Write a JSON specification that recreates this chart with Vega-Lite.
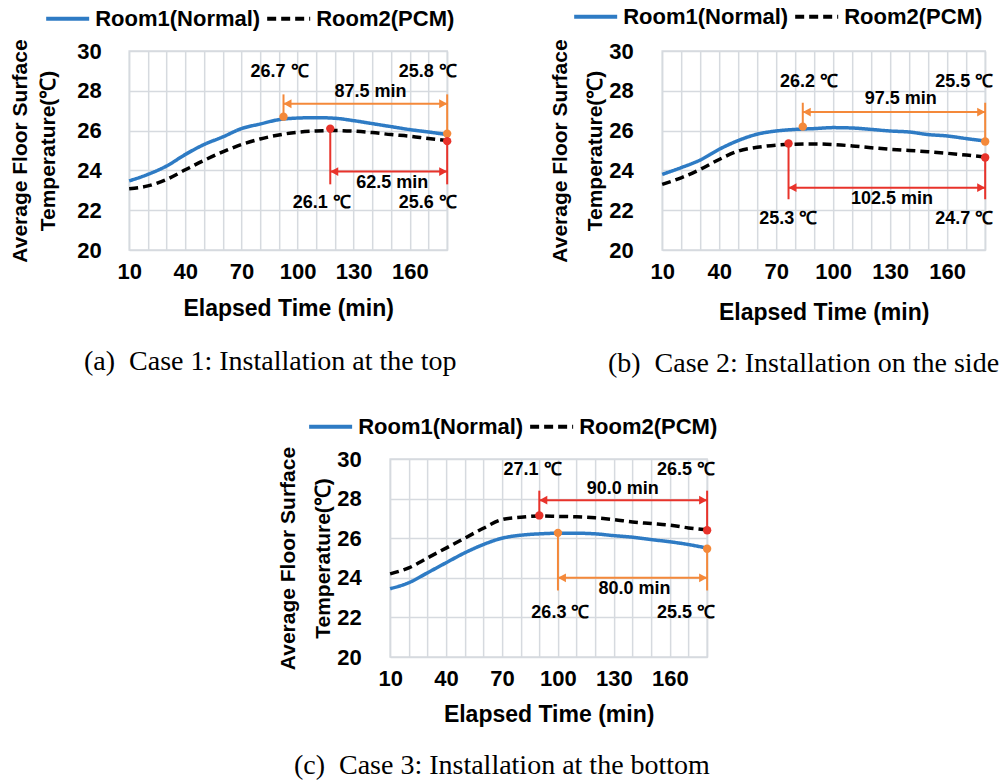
{
  "$schema": "https://vega.github.io/schema/vega-lite/v6.json",
  "background": "white",
  "padding": {"left": 8, "top": -8, "right": 5, "bottom": 5},
  "config": {
    "font": "Liberation Sans",
    "view": {"stroke": "#d6dadf", "strokeWidth": 1.5},
    "axis": {
      "labelFont": "Liberation Sans", "labelFontWeight": "bold", "labelFontSize": 22, "labelColor": "#000000",
      "titleFont": "Liberation Sans", "titleFontWeight": "bold", "titleColor": "#000000",
      "gridColor": "#d6dadf", "gridWidth": 1.5, "domain": false, "ticks": false
    },
    "legend": {
      "orient": "none", "direction": "horizontal", "title": null,
      "symbolType": "stroke", "symbolSize": 1849, "symbolStrokeWidth": 4,
      "labelFont": "Liberation Sans", "labelFontWeight": "bold", "labelFontSize": 22, "labelColor": "#000000", "labelLimit": 400,
      "labelOffset": 4, "columnPadding": -2, "padding": 0
    },
    "title": {"font": "Liberation Serif", "fontSize": 28, "fontWeight": "normal", "color": "#000000", "orient": "bottom", "anchor": "middle", "frame": "bounds", "offset": 12}
  },
  "datasets": {
    "curves": [
      {"p": "a", "room": "Room1(Normal)", "t": 10, "T": 23.47},
      {"p": "a", "room": "Room1(Normal)", "t": 20, "T": 23.8},
      {"p": "a", "room": "Room1(Normal)", "t": 30, "T": 24.22},
      {"p": "a", "room": "Room1(Normal)", "t": 40, "T": 24.8},
      {"p": "a", "room": "Room1(Normal)", "t": 50, "T": 25.3},
      {"p": "a", "room": "Room1(Normal)", "t": 60, "T": 25.68},
      {"p": "a", "room": "Room1(Normal)", "t": 70, "T": 26.1},
      {"p": "a", "room": "Room1(Normal)", "t": 80, "T": 26.33},
      {"p": "a", "room": "Room1(Normal)", "t": 90, "T": 26.55},
      {"p": "a", "room": "Room1(Normal)", "t": 100, "T": 26.63},
      {"p": "a", "room": "Room1(Normal)", "t": 110, "T": 26.65},
      {"p": "a", "room": "Room1(Normal)", "t": 120, "T": 26.62},
      {"p": "a", "room": "Room1(Normal)", "t": 130, "T": 26.5},
      {"p": "a", "room": "Room1(Normal)", "t": 140, "T": 26.35},
      {"p": "a", "room": "Room1(Normal)", "t": 150, "T": 26.2},
      {"p": "a", "room": "Room1(Normal)", "t": 160, "T": 26.05},
      {"p": "a", "room": "Room1(Normal)", "t": 170, "T": 25.93},
      {"p": "a", "room": "Room1(Normal)", "t": 180, "T": 25.8},
      {"p": "a", "room": "Room2(PCM)", "t": 10, "T": 23.08},
      {"p": "a", "room": "Room2(PCM)", "t": 20, "T": 23.22},
      {"p": "a", "room": "Room2(PCM)", "t": 30, "T": 23.55},
      {"p": "a", "room": "Room2(PCM)", "t": 40, "T": 24.03},
      {"p": "a", "room": "Room2(PCM)", "t": 50, "T": 24.5},
      {"p": "a", "room": "Room2(PCM)", "t": 60, "T": 24.93},
      {"p": "a", "room": "Room2(PCM)", "t": 70, "T": 25.3},
      {"p": "a", "room": "Room2(PCM)", "t": 80, "T": 25.58},
      {"p": "a", "room": "Room2(PCM)", "t": 90, "T": 25.78},
      {"p": "a", "room": "Room2(PCM)", "t": 100, "T": 25.92},
      {"p": "a", "room": "Room2(PCM)", "t": 110, "T": 25.98},
      {"p": "a", "room": "Room2(PCM)", "t": 120, "T": 26.0},
      {"p": "a", "room": "Room2(PCM)", "t": 130, "T": 25.97},
      {"p": "a", "room": "Room2(PCM)", "t": 140, "T": 25.9},
      {"p": "a", "room": "Room2(PCM)", "t": 150, "T": 25.8},
      {"p": "a", "room": "Room2(PCM)", "t": 160, "T": 25.72},
      {"p": "a", "room": "Room2(PCM)", "t": 170, "T": 25.6},
      {"p": "a", "room": "Room2(PCM)", "t": 180, "T": 25.5},
      {"p": "b", "room": "Room1(Normal)", "t": 10, "T": 23.8},
      {"p": "b", "room": "Room1(Normal)", "t": 20, "T": 24.14},
      {"p": "b", "room": "Room1(Normal)", "t": 30, "T": 24.52},
      {"p": "b", "room": "Room1(Normal)", "t": 40, "T": 25.06},
      {"p": "b", "room": "Room1(Normal)", "t": 50, "T": 25.5},
      {"p": "b", "room": "Room1(Normal)", "t": 60, "T": 25.82},
      {"p": "b", "room": "Room1(Normal)", "t": 70, "T": 25.98},
      {"p": "b", "room": "Room1(Normal)", "t": 80, "T": 26.06},
      {"p": "b", "room": "Room1(Normal)", "t": 90, "T": 26.1},
      {"p": "b", "room": "Room1(Normal)", "t": 100, "T": 26.15},
      {"p": "b", "room": "Room1(Normal)", "t": 110, "T": 26.13},
      {"p": "b", "room": "Room1(Normal)", "t": 120, "T": 26.06},
      {"p": "b", "room": "Room1(Normal)", "t": 130, "T": 25.98},
      {"p": "b", "room": "Room1(Normal)", "t": 140, "T": 25.93},
      {"p": "b", "room": "Room1(Normal)", "t": 150, "T": 25.8},
      {"p": "b", "room": "Room1(Normal)", "t": 160, "T": 25.73},
      {"p": "b", "room": "Room1(Normal)", "t": 170, "T": 25.6},
      {"p": "b", "room": "Room1(Normal)", "t": 180, "T": 25.48},
      {"p": "b", "room": "Room2(PCM)", "t": 10, "T": 23.3},
      {"p": "b", "room": "Room2(PCM)", "t": 20, "T": 23.63},
      {"p": "b", "room": "Room2(PCM)", "t": 30, "T": 24.05},
      {"p": "b", "room": "Room2(PCM)", "t": 40, "T": 24.55},
      {"p": "b", "room": "Room2(PCM)", "t": 50, "T": 24.97},
      {"p": "b", "room": "Room2(PCM)", "t": 60, "T": 25.16},
      {"p": "b", "room": "Room2(PCM)", "t": 70, "T": 25.27},
      {"p": "b", "room": "Room2(PCM)", "t": 80, "T": 25.32},
      {"p": "b", "room": "Room2(PCM)", "t": 90, "T": 25.33},
      {"p": "b", "room": "Room2(PCM)", "t": 100, "T": 25.3},
      {"p": "b", "room": "Room2(PCM)", "t": 110, "T": 25.23},
      {"p": "b", "room": "Room2(PCM)", "t": 120, "T": 25.14},
      {"p": "b", "room": "Room2(PCM)", "t": 130, "T": 25.06},
      {"p": "b", "room": "Room2(PCM)", "t": 140, "T": 25.0},
      {"p": "b", "room": "Room2(PCM)", "t": 150, "T": 24.94},
      {"p": "b", "room": "Room2(PCM)", "t": 160, "T": 24.86},
      {"p": "b", "room": "Room2(PCM)", "t": 170, "T": 24.77},
      {"p": "b", "room": "Room2(PCM)", "t": 180, "T": 24.67},
      {"p": "c", "room": "Room1(Normal)", "t": 10, "T": 23.45},
      {"p": "c", "room": "Room1(Normal)", "t": 20, "T": 23.75},
      {"p": "c", "room": "Room1(Normal)", "t": 30, "T": 24.25},
      {"p": "c", "room": "Room1(Normal)", "t": 40, "T": 24.76},
      {"p": "c", "room": "Room1(Normal)", "t": 50, "T": 25.26},
      {"p": "c", "room": "Room1(Normal)", "t": 60, "T": 25.68},
      {"p": "c", "room": "Room1(Normal)", "t": 70, "T": 26.0},
      {"p": "c", "room": "Room1(Normal)", "t": 80, "T": 26.15},
      {"p": "c", "room": "Room1(Normal)", "t": 90, "T": 26.22},
      {"p": "c", "room": "Room1(Normal)", "t": 100, "T": 26.25},
      {"p": "c", "room": "Room1(Normal)", "t": 110, "T": 26.25},
      {"p": "c", "room": "Room1(Normal)", "t": 120, "T": 26.22},
      {"p": "c", "room": "Room1(Normal)", "t": 130, "T": 26.13},
      {"p": "c", "room": "Room1(Normal)", "t": 140, "T": 26.05},
      {"p": "c", "room": "Room1(Normal)", "t": 150, "T": 25.93},
      {"p": "c", "room": "Room1(Normal)", "t": 160, "T": 25.82},
      {"p": "c", "room": "Room1(Normal)", "t": 170, "T": 25.68},
      {"p": "c", "room": "Room1(Normal)", "t": 180, "T": 25.5},
      {"p": "c", "room": "Room2(PCM)", "t": 10, "T": 24.2},
      {"p": "c", "room": "Room2(PCM)", "t": 20, "T": 24.5},
      {"p": "c", "room": "Room2(PCM)", "t": 30, "T": 25.0},
      {"p": "c", "room": "Room2(PCM)", "t": 40, "T": 25.5},
      {"p": "c", "room": "Room2(PCM)", "t": 50, "T": 26.0},
      {"p": "c", "room": "Room2(PCM)", "t": 60, "T": 26.5},
      {"p": "c", "room": "Room2(PCM)", "t": 70, "T": 26.94},
      {"p": "c", "room": "Room2(PCM)", "t": 80, "T": 27.06},
      {"p": "c", "room": "Room2(PCM)", "t": 90, "T": 27.12},
      {"p": "c", "room": "Room2(PCM)", "t": 100, "T": 27.1},
      {"p": "c", "room": "Room2(PCM)", "t": 110, "T": 27.08},
      {"p": "c", "room": "Room2(PCM)", "t": 120, "T": 27.03},
      {"p": "c", "room": "Room2(PCM)", "t": 130, "T": 26.94},
      {"p": "c", "room": "Room2(PCM)", "t": 140, "T": 26.82},
      {"p": "c", "room": "Room2(PCM)", "t": 150, "T": 26.74},
      {"p": "c", "room": "Room2(PCM)", "t": 160, "T": 26.66},
      {"p": "c", "room": "Room2(PCM)", "t": 170, "T": 26.52},
      {"p": "c", "room": "Room2(PCM)", "t": 180, "T": 26.42}
    ],
    "ann": [
      {"p": "a", "grp": "R1", "kind": "seg", "t": 92.5, "t2": 92.5, "T": 26.7, "T2": 27.82},
      {"p": "a", "grp": "R1", "kind": "seg", "t": 180, "t2": 180, "T": 25.8, "T2": 27.82},
      {"p": "a", "grp": "R1", "kind": "seg", "t": 92.5, "t2": 180, "T": 27.35, "T2": 27.35},
      {"p": "a", "grp": "R1", "kind": "head", "dir": "left", "t": 92.5, "T": 27.35},
      {"p": "a", "grp": "R1", "kind": "head", "dir": "right", "t": 180, "T": 27.35},
      {"p": "a", "grp": "R1", "kind": "dot", "t": 92.5, "T": 26.7},
      {"p": "a", "grp": "R1", "kind": "dot", "t": 180, "T": 25.85},
      {"p": "a", "grp": "R1", "kind": "label", "t": 139, "T": 27.94, "text": "87.5 min"},
      {"p": "a", "grp": "R1", "kind": "label", "t": 90.4, "T": 28.95, "text": "26.7 ℃"},
      {"p": "a", "grp": "R1", "kind": "label", "t": 169.6, "T": 28.95, "text": "25.8 ℃"},
      {"p": "a", "grp": "R2", "kind": "seg", "t": 117.5, "t2": 117.5, "T": 26.1, "T2": 23.3},
      {"p": "a", "grp": "R2", "kind": "seg", "t": 180, "t2": 180, "T": 25.5, "T2": 23.3},
      {"p": "a", "grp": "R2", "kind": "seg", "t": 117.5, "t2": 180, "T": 23.94, "T2": 23.94},
      {"p": "a", "grp": "R2", "kind": "head", "dir": "left", "t": 117.5, "T": 23.94},
      {"p": "a", "grp": "R2", "kind": "head", "dir": "right", "t": 180, "T": 23.94},
      {"p": "a", "grp": "R2", "kind": "dot", "t": 117.5, "T": 26.1},
      {"p": "a", "grp": "R2", "kind": "dot", "t": 180, "T": 25.47},
      {"p": "a", "grp": "R2", "kind": "label", "t": 150.6, "T": 23.38, "text": "62.5 min"},
      {"p": "a", "grp": "R2", "kind": "label", "t": 113, "T": 22.35, "text": "26.1 ℃"},
      {"p": "a", "grp": "R2", "kind": "label", "t": 169.6, "T": 22.35, "text": "25.6 ℃"},
      {"p": "b", "grp": "R1", "kind": "seg", "t": 84, "t2": 84, "T": 26.2, "T2": 27.4},
      {"p": "b", "grp": "R1", "kind": "seg", "t": 180, "t2": 180, "T": 25.5, "T2": 27.4},
      {"p": "b", "grp": "R1", "kind": "seg", "t": 84, "t2": 180, "T": 26.93, "T2": 26.93},
      {"p": "b", "grp": "R1", "kind": "head", "dir": "left", "t": 84, "T": 26.93},
      {"p": "b", "grp": "R1", "kind": "head", "dir": "right", "t": 180, "T": 26.93},
      {"p": "b", "grp": "R1", "kind": "dot", "t": 84, "T": 26.2},
      {"p": "b", "grp": "R1", "kind": "dot", "t": 180, "T": 25.45},
      {"p": "b", "grp": "R1", "kind": "label", "t": 135.6, "T": 27.57, "text": "97.5 min"},
      {"p": "b", "grp": "R1", "kind": "label", "t": 87.3, "T": 28.45, "text": "26.2 ℃"},
      {"p": "b", "grp": "R1", "kind": "label", "t": 169, "T": 28.45, "text": "25.5 ℃"},
      {"p": "b", "grp": "R2", "kind": "seg", "t": 76.5, "t2": 76.5, "T": 25.35, "T2": 22.55},
      {"p": "b", "grp": "R2", "kind": "seg", "t": 180, "t2": 180, "T": 24.7, "T2": 22.55},
      {"p": "b", "grp": "R2", "kind": "seg", "t": 76.5, "t2": 180, "T": 23.13, "T2": 23.13},
      {"p": "b", "grp": "R2", "kind": "head", "dir": "left", "t": 76.5, "T": 23.13},
      {"p": "b", "grp": "R2", "kind": "head", "dir": "right", "t": 180, "T": 23.13},
      {"p": "b", "grp": "R2", "kind": "dot", "t": 76.5, "T": 25.35},
      {"p": "b", "grp": "R2", "kind": "dot", "t": 180, "T": 24.65},
      {"p": "b", "grp": "R2", "kind": "label", "t": 131, "T": 22.58, "text": "102.5 min"},
      {"p": "b", "grp": "R2", "kind": "label", "t": 76.4, "T": 21.54, "text": "25.3 ℃"},
      {"p": "b", "grp": "R2", "kind": "label", "t": 169, "T": 21.54, "text": "24.7 ℃"},
      {"p": "c", "grp": "R2", "kind": "seg", "t": 90, "t2": 90, "T": 27.15, "T2": 28.4},
      {"p": "c", "grp": "R2", "kind": "seg", "t": 180, "t2": 180, "T": 26.4, "T2": 28.4},
      {"p": "c", "grp": "R2", "kind": "seg", "t": 90, "t2": 180, "T": 27.92, "T2": 27.92},
      {"p": "c", "grp": "R2", "kind": "head", "dir": "left", "t": 90, "T": 27.92},
      {"p": "c", "grp": "R2", "kind": "head", "dir": "right", "t": 180, "T": 27.92},
      {"p": "c", "grp": "R2", "kind": "dot", "t": 90, "T": 27.15},
      {"p": "c", "grp": "R2", "kind": "dot", "t": 180, "T": 26.4},
      {"p": "c", "grp": "R2", "kind": "label", "t": 134.7, "T": 28.5, "text": "90.0 min"},
      {"p": "c", "grp": "R2", "kind": "label", "t": 86.4, "T": 29.46, "text": "27.1 ℃"},
      {"p": "c", "grp": "R2", "kind": "label", "t": 168.7, "T": 29.46, "text": "26.5 ℃"},
      {"p": "c", "grp": "R1", "kind": "seg", "t": 100, "t2": 100, "T": 26.27, "T2": 23.36},
      {"p": "c", "grp": "R1", "kind": "seg", "t": 180, "t2": 180, "T": 25.5, "T2": 23.36},
      {"p": "c", "grp": "R1", "kind": "seg", "t": 100, "t2": 180, "T": 24.0, "T2": 24.0},
      {"p": "c", "grp": "R1", "kind": "head", "dir": "left", "t": 100, "T": 24.0},
      {"p": "c", "grp": "R1", "kind": "head", "dir": "right", "t": 180, "T": 24.0},
      {"p": "c", "grp": "R1", "kind": "dot", "t": 100, "T": 26.27},
      {"p": "c", "grp": "R1", "kind": "dot", "t": 180, "T": 25.47},
      {"p": "c", "grp": "R1", "kind": "label", "t": 141, "T": 23.41, "text": "80.0 min"},
      {"p": "c", "grp": "R1", "kind": "label", "t": 101.3, "T": 22.24, "text": "26.3 ℃"},
      {"p": "c", "grp": "R1", "kind": "label", "t": 168.7, "T": 22.24, "text": "25.5 ℃"}
    ]
  },
  "vconcat": [
    {
      "hconcat": [
        {
          "width": 318, "height": 199,
          "title": {"text": "(a)\u00a0 Case 1: Installation at the top", "offset": 28, "dx": 37},
          "encoding": {
            "x": {"field": "t", "type": "quantitative", "scale": {"domain": [10, 180], "nice": false, "zero": false},
                  "axis": {"values": [10, 20, 30, 40, 50, 60, 70, 80, 90, 100, 110, 120, 130, 140, 150, 160, 170, 180], "labelExpr": "datum.value % 30 == 10 ? datum.label : ''", "labelFlush": false, "labelPadding": 11, "title": "Elapsed Time (min)", "titleFontSize": 23, "titlePadding": 15}},
            "y": {"field": "T", "type": "quantitative", "scale": {"domain": [20, 30], "nice": false, "zero": false},
                  "axis": {"values": [20, 22, 24, 26, 28, 30], "labelPadding": 28, "title": ["Average Floor Surface", "Temperature(℃)"], "titleFontSize": 21, "titleLineHeight": 28, "titlePadding": 18}}
          },
          "layer": [
            {"data": {"name": "curves"}, "transform": [{"filter": "datum.p == 'a'"}],
             "mark": {"type": "line", "interpolate": "monotone", "strokeWidth": 3.5},
             "encoding": {
               "color": {"field": "room", "type": "nominal", "scale": {"domain": ["Room1(Normal)", "Room2(PCM)"], "range": ["#2e7bc4", "#000000"]}, "legend": {"legendX": -85, "legendY": -56}},
               "strokeDash": {"field": "room", "type": "nominal", "scale": {"domain": ["Room1(Normal)", "Room2(PCM)"], "range": [[1, 0], [9, 5]]}, "legend": {"legendX": -85, "legendY": -56}}
             }},
            {"data": {"name": "ann"}, "transform": [{"filter": "datum.p == 'a' && datum.kind == 'seg'"}],
             "mark": {"type": "rule", "strokeWidth": 2},
             "encoding": {"x2": {"field": "t2"}, "y2": {"field": "T2"},
               "stroke": {"field": "grp", "type": "nominal", "scale": {"domain": ["R1", "R2"], "range": ["#f4893a", "#e8332b"]}, "legend": null}}},
            {"data": {"name": "ann"}, "transform": [{"filter": "datum.p == 'a' && datum.kind == 'head'"}],
             "mark": {"type": "point", "filled": true, "size": 256, "opacity": 1, "strokeWidth": 0},
             "encoding": {
               "shape": {"field": "dir", "type": "nominal", "scale": {"domain": ["left", "right"], "range": ["M0,0L1,-0.55L1,0.55Z", "M0,0L-1,-0.55L-1,0.55Z"]}, "legend": null},
               "fill": {"field": "grp", "type": "nominal", "scale": {"domain": ["R1", "R2"], "range": ["#f4893a", "#e8332b"]}, "legend": null}}},
            {"data": {"name": "ann"}, "transform": [{"filter": "datum.p == 'a' && datum.kind == 'dot'"}],
             "mark": {"type": "circle", "size": 70, "opacity": 1},
             "encoding": {"fill": {"field": "grp", "type": "nominal", "scale": {"domain": ["R1", "R2"], "range": ["#f4893a", "#e8332b"]}, "legend": null}}},
            {"data": {"name": "ann"}, "transform": [{"filter": "datum.p == 'a' && datum.kind == 'label'"}],
             "mark": {"type": "text", "font": "Liberation Sans", "fontWeight": "bold", "fontSize": 18, "align": "center", "baseline": "middle", "color": "#000000"},
             "encoding": {"text": {"field": "text", "type": "nominal"}}}
          ]
        },
        {
          "width": 323, "height": 199,
          "title": {"text": "(b)\u00a0 Case 2: Installation on the side", "dx": 32, "offset": 26},
          "encoding": {
            "x": {"field": "t", "type": "quantitative", "scale": {"domain": [10, 180], "nice": false, "zero": false},
                  "axis": {"values": [10, 20, 30, 40, 50, 60, 70, 80, 90, 100, 110, 120, 130, 140, 150, 160, 170, 180], "labelExpr": "datum.value % 30 == 10 ? datum.label : ''", "labelFlush": false, "labelPadding": 11, "title": "Elapsed Time (min)", "titleFontSize": 23, "titlePadding": 19}},
            "y": {"field": "T", "type": "quantitative", "scale": {"domain": [20, 30], "nice": false, "zero": false},
                  "axis": {"values": [20, 22, 24, 26, 28, 30], "labelPadding": 29, "title": ["Average Floor Surface", "Temperature(℃)"], "titleFontSize": 21, "titleLineHeight": 35, "titlePadding": 3}}
          },
          "layer": [
            {"data": {"name": "curves"}, "transform": [{"filter": "datum.p == 'b'"}],
             "mark": {"type": "line", "interpolate": "monotone", "strokeWidth": 3.5},
             "encoding": {
               "color": {"field": "room", "type": "nominal", "scale": {"domain": ["Room1(Normal)", "Room2(PCM)"], "range": ["#2e7bc4", "#000000"]}, "legend": {"legendX": -90, "legendY": -58}},
               "strokeDash": {"field": "room", "type": "nominal", "scale": {"domain": ["Room1(Normal)", "Room2(PCM)"], "range": [[1, 0], [9, 5]]}, "legend": {"legendX": -90, "legendY": -58}}
             }},
            {"data": {"name": "ann"}, "transform": [{"filter": "datum.p == 'b' && datum.kind == 'seg'"}],
             "mark": {"type": "rule", "strokeWidth": 2},
             "encoding": {"x2": {"field": "t2"}, "y2": {"field": "T2"},
               "stroke": {"field": "grp", "type": "nominal", "scale": {"domain": ["R1", "R2"], "range": ["#f4893a", "#e8332b"]}, "legend": null}}},
            {"data": {"name": "ann"}, "transform": [{"filter": "datum.p == 'b' && datum.kind == 'head'"}],
             "mark": {"type": "point", "filled": true, "size": 256, "opacity": 1, "strokeWidth": 0},
             "encoding": {
               "shape": {"field": "dir", "type": "nominal", "scale": {"domain": ["left", "right"], "range": ["M0,0L1,-0.55L1,0.55Z", "M0,0L-1,-0.55L-1,0.55Z"]}, "legend": null},
               "fill": {"field": "grp", "type": "nominal", "scale": {"domain": ["R1", "R2"], "range": ["#f4893a", "#e8332b"]}, "legend": null}}},
            {"data": {"name": "ann"}, "transform": [{"filter": "datum.p == 'b' && datum.kind == 'dot'"}],
             "mark": {"type": "circle", "size": 70, "opacity": 1},
             "encoding": {"fill": {"field": "grp", "type": "nominal", "scale": {"domain": ["R1", "R2"], "range": ["#f4893a", "#e8332b"]}, "legend": null}}},
            {"data": {"name": "ann"}, "transform": [{"filter": "datum.p == 'b' && datum.kind == 'label'"}],
             "mark": {"type": "text", "font": "Liberation Sans", "fontWeight": "bold", "fontSize": 18, "align": "center", "baseline": "middle", "color": "#000000"},
             "encoding": {"text": {"field": "text", "type": "nominal"}}}
          ]
        }
      ],
      "spacing": 215, "bounds": "flush",
      "resolve": {"scale": {"color": "independent", "strokeDash": "independent", "stroke": "independent", "fill": "independent", "shape": "independent"}}
    },
    {
      "width": 317, "height": 198,
      "title": {"text": "(c)\u00a0 Case 3: Installation at the bottom", "offset": 26, "dx": -6},
      "encoding": {
        "x": {"field": "t", "type": "quantitative", "scale": {"domain": [10, 180], "nice": false, "zero": false},
              "axis": {"values": [10, 20, 30, 40, 50, 60, 70, 80, 90, 100, 110, 120, 130, 140, 150, 160, 170, 180], "labelExpr": "datum.value % 30 == 10 ? datum.label : ''", "labelFlush": false, "labelPadding": 11, "title": "Elapsed Time (min)", "titleFontSize": 23, "titlePadding": 14}},
        "y": {"field": "T", "type": "quantitative", "scale": {"domain": [20, 30], "nice": false, "zero": false},
              "axis": {"values": [20, 22, 24, 26, 28, 30], "labelPadding": 29, "title": ["Average Floor Surface", "Temperature(℃)"], "titleFontSize": 21, "titleLineHeight": 35, "titlePadding": 3}}
      },
      "layer": [
        {"data": {"name": "curves"}, "transform": [{"filter": "datum.p == 'c'"}],
         "mark": {"type": "line", "interpolate": "monotone", "strokeWidth": 3.5},
         "encoding": {
           "color": {"field": "room", "type": "nominal", "scale": {"domain": ["Room1(Normal)", "Room2(PCM)"], "range": ["#2e7bc4", "#000000"]}, "legend": {"legendX": -103, "legendY": -76, "padding": 20}},
           "strokeDash": {"field": "room", "type": "nominal", "scale": {"domain": ["Room1(Normal)", "Room2(PCM)"], "range": [[1, 0], [9, 5]]}, "legend": {"legendX": -103, "legendY": -76, "padding": 20}}
         }},
        {"data": {"name": "ann"}, "transform": [{"filter": "datum.p == 'c' && datum.kind == 'seg'"}],
         "mark": {"type": "rule", "strokeWidth": 2},
         "encoding": {"x2": {"field": "t2"}, "y2": {"field": "T2"},
           "stroke": {"field": "grp", "type": "nominal", "scale": {"domain": ["R1", "R2"], "range": ["#f4893a", "#e8332b"]}, "legend": null}}},
        {"data": {"name": "ann"}, "transform": [{"filter": "datum.p == 'c' && datum.kind == 'head'"}],
         "mark": {"type": "point", "filled": true, "size": 256, "opacity": 1, "strokeWidth": 0},
         "encoding": {
           "shape": {"field": "dir", "type": "nominal", "scale": {"domain": ["left", "right"], "range": ["M0,0L1,-0.55L1,0.55Z", "M0,0L-1,-0.55L-1,0.55Z"]}, "legend": null},
           "fill": {"field": "grp", "type": "nominal", "scale": {"domain": ["R1", "R2"], "range": ["#f4893a", "#e8332b"]}, "legend": null}}},
        {"data": {"name": "ann"}, "transform": [{"filter": "datum.p == 'c' && datum.kind == 'dot'"}],
         "mark": {"type": "circle", "size": 70, "opacity": 1},
         "encoding": {"fill": {"field": "grp", "type": "nominal", "scale": {"domain": ["R1", "R2"], "range": ["#f4893a", "#e8332b"]}, "legend": null}}},
        {"data": {"name": "ann"}, "transform": [{"filter": "datum.p == 'c' && datum.kind == 'label'"}],
         "mark": {"type": "text", "font": "Liberation Sans", "fontWeight": "bold", "fontSize": 18, "align": "center", "baseline": "middle", "color": "#000000"},
         "encoding": {"text": {"field": "text", "type": "nominal"}}}
      ]
    }
  ],
  "spacing": 3, "bounds": "full", "center": true,
  "resolve": {"scale": {"color": "independent", "strokeDash": "independent", "stroke": "independent", "fill": "independent", "shape": "independent"}}
}
